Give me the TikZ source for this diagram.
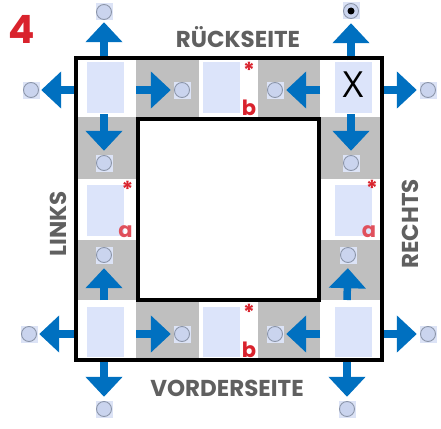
\documentclass[tikz,border=0pt]{standalone}
\usepackage{fontspec}
\setmainfont{Poppins}
\newfontfamily\xfont{Open Sans}
\usetikzlibrary{arrows.meta}
\definecolor{cellgray}{HTML}{BFBFBF}
\definecolor{lblue}{HTML}{DCE4FA}
\definecolor{ablue}{HTML}{0070C0}
\definecolor{cfill}{HTML}{CAD4EE}
\definecolor{cline}{HTML}{8C96AA}
\definecolor{sqfill}{HTML}{DCE3F6}
\definecolor{myred}{HTML}{D9232D}
\definecolor{lred}{HTML}{E0505C}
\definecolor{tgray}{HTML}{606060}
\tikzset{
  graycell/.style={fill=cellgray},
  bluerect/.style={fill=lblue},
  cnode/.style={rectangle, minimum size=17pt, inner sep=0pt, fill=sqfill},
  circ/.style={draw=cline, fill=cfill, line width=0.9pt},
  arr/.style={draw=ablue, line width=7.5pt, -{Triangle[width=36pt,length=20pt]}, shorten >=#1},
  arr/.default=2pt,
  frame/.style={draw=black, line width=4pt},
  side/.style={font=\bfseries\fontsize{23}{23}\selectfont, text=tgray, inner sep=0pt, anchor=base},
  redletter/.style={font=\bfseries\fontsize{21}{21}\selectfont, text=myred, inner sep=0pt, anchor=base},
  starmark/.style={font=\bfseries\fontsize{22}{22}\selectfont, text=myred, inner sep=0pt, anchor=north},
}
\begin{document}
\begin{tikzpicture}[x=1pt,y=-1pt]
\useasboundingbox (0,0) rectangle (441,428);
% gray cells
\fill[graycell] (136,59) rectangle (199,117);
\fill[graycell] (258,59) rectangle (320,117);
\fill[graycell] (78,117) rectangle (136,179);
\fill[graycell] (78,240) rectangle (136,300);
\fill[graycell] (320,117) rectangle (380,179);
\fill[graycell] (320,240) rectangle (380,300);
\fill[graycell] (136,300) rectangle (199,358);
\fill[graycell] (258,300) rectangle (320,358);
% light blue rects
\fill[bluerect] (87,62) rectangle (124,113);
\fill[bluerect] (203,62) rectangle (240,113);
\fill[bluerect] (335,62) rectangle (372,113);
\fill[bluerect] (87,185) rectangle (124,236);
\fill[bluerect] (335,185) rectangle (372,236);
\fill[bluerect] (87,307) rectangle (124,357);
\fill[bluerect] (203,307) rectangle (240,357);
\fill[bluerect] (335,307) rectangle (372,357);
% circle nodes
\node[cnode] (cTLu) at (104,12) {};
\node[cnode] (cTLl) at (31,90) {};
\node[cnode] (cT1) at (182,90) {};
\node[cnode] (cT2) at (275,90) {};
\node[cnode] (cTRu) at (351,11) {};
\node[cnode] (cTRr) at (428,90) {};
\node[cnode] (cL1) at (104,163) {};
\node[cnode] (cL2) at (104,255) {};
\node[cnode] (cR1) at (351,163) {};
\node[cnode] (cR2) at (348,255) {};
\node[cnode] (cBLl) at (29,334) {};
\node[cnode] (cB1) at (182,334) {};
\node[cnode] (cB2) at (275,334) {};
\node[cnode] (cBRr) at (428,334) {};
\node[cnode] (cBLd) at (104,409) {};
\node[cnode] (cBRd) at (347,409) {};
\foreach \n in {cTLu,cTLl,cT1,cT2,cTRu,cTRr,cL1,cL2,cR1,cR2,cBLl,cB1,cB2,cBRr,cBLd,cBRd}
  \draw[circ] (\n) circle (7.5pt);
\fill[black] (cTRu) circle (3.5pt);
% arrow start coordinates
\coordinate (sTLu) at (104,60);
\coordinate (sTLl) at (77,90);
\coordinate (sT1) at (136,90);
\coordinate (sT2) at (320,90);
\coordinate (sTRu) at (351,60);
\coordinate (sTRr) at (380,90);
\coordinate (sL1) at (104,114);
\coordinate (sL2) at (104,300);
\coordinate (sR1) at (351,114);
\coordinate (sR2) at (347,300);
\coordinate (sBLl) at (77,334);
\coordinate (sB1) at (136,334);
\coordinate (sB2) at (320,334);
\coordinate (sBRr) at (380,334);
\coordinate (sBLd) at (104,358);
\coordinate (sBRd) at (347,358);
% arrows
\draw[arr=1.5pt] (sTLu) -- (cTLu.south);
\draw[arr=1.5pt] (sTLl) -- (cTLl.east);
\draw[arr=2.5pt] (sT1) -- (cT1.west);
\draw[arr=2.5pt] (sT2) -- (cT2.east);
\draw[arr=3.5pt] (sTRu) -- (cTRu.south);
\draw[arr=2.5pt] (sTRr) -- (cTRr.west);
\draw[arr=3.5pt] (sL1) -- (cL1.north);
\draw[arr=4.5pt] (sL2) -- (cL2.south);
\draw[arr=3.5pt] (sR1) -- (cR1.north);
\draw[arr=4.5pt] (sR2) -- (cR2.south);
\draw[arr=1.5pt] (sBLl) -- (cBLl.east);
\draw[arr=2.5pt] (sB1) -- (cB1.west);
\draw[arr=2.5pt] (sB2) -- (cB2.east);
\draw[arr=2.5pt] (sBRr) -- (cBRr.west);
\draw[arr=3.5pt] (sBLd) -- (cBLd.north);
\draw[arr=3.5pt] (sBRd) -- (cBRd.north);
% frames
\draw[frame] (76,57.5) rectangle (381.5,360);
\draw[frame] (138,119) rectangle (319,300);
% texts
\node[font=\bfseries\fontsize{39}{39}\selectfont, text=myred, inner sep=0pt, anchor=base] (four) at (22,44) {4};
\node[side] (top) at (238,48) {RÜCKSEITE};
\node[side] (bottom) at (227,396) {VORDERSEITE};
\node[side, rotate=90] (left) at (66,224) {LINKS};
\node[side, rotate=90] (right) at (418,224) {RECHTS};
\node[font=\xfont\fontsize{36}{36}\selectfont, inner sep=0pt, anchor=base] (xmark) at (353,97) {X};
\node[starmark] (st1) at (249,62) {*};
\node[starmark] (st2) at (249,304) {*};
\node[starmark] (st3) at (127.5,181) {*};
\node[starmark] (st4) at (372,180) {*};
\node[redletter] (b1) at (249,115) {b};
\node[redletter] (b2) at (249,357) {b};
\node[redletter, text=lred] (a1) at (125.5,237) {a};
\node[redletter, text=lred] (a2) at (369,237) {a};
\end{tikzpicture}
\end{document}
